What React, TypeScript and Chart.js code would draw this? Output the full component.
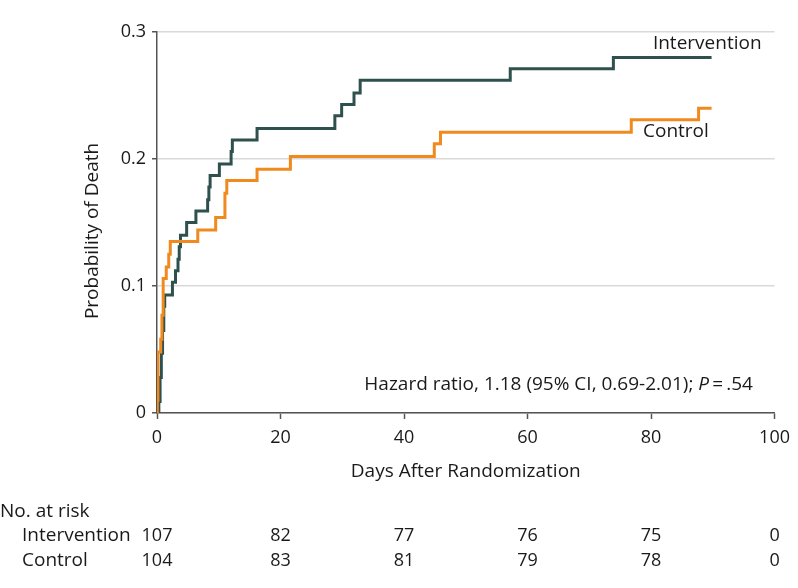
import React, { useEffect, useRef } from "react";
import { Chart, registerables } from "chart.js";

Chart.register(...registerables);

const FONT = "'Open Sans'";
const FONT_SIZE = 18;
const LABEL_SIZE = 19;
const TEXT_COLOR = "#1a1a1a";
const AXIS_COLOR = "#555555";
const GRID_COLOR = "#d9d9d9";
const INTERVENTION_COLOR = "#2e514d";
const CONTROL_COLOR = "#f08a1e";

// Kaplan-Meier step points (day, cumulative probability of death)
const interventionDays = [0, 0.3, 0.5, 0.7, 0.9, 1.1, 1.25, 2.5, 3.0, 3.4, 3.6, 3.8, 4.8, 6.3, 8.2, 8.4, 8.6, 10.1, 12.0, 12.2, 16.2, 28.8, 29.9, 31.9, 32.9, 57.2, 73.9, 89.8];
const interventionProb = [0, 0.009, 0.028, 0.047, 0.065, 0.084, 0.093, 0.103, 0.112, 0.121, 0.131, 0.14, 0.15, 0.159, 0.168, 0.178, 0.187, 0.196, 0.206, 0.215, 0.224, 0.234, 0.243, 0.252, 0.262, 0.271, 0.28, 0.28];

const controlDays = [0, 0.05, 0.15, 0.6, 0.8, 1.0, 1.5, 1.9, 2.15, 6.6, 9.5, 11.0, 11.3, 16.2, 21.6, 44.9, 45.9, 76.8, 87.7, 89.8];
const controlProb = [0, 0.01, 0.048, 0.058, 0.077, 0.106, 0.115, 0.125, 0.135, 0.144, 0.154, 0.173, 0.183, 0.192, 0.202, 0.212, 0.221, 0.231, 0.24, 0.24];

const xTickValues = [0, 20, 40, 60, 80, 100];
const yTickValues = [0, 0.1, 0.2, 0.3];
const atRiskIntervention = [107, 82, 77, 76, 75, 0];
const atRiskControl = [104, 83, 81, 79, 78, 0];

const seriesNames = ["Intervention", "Control"];
const xTitle = "Days After Randomization";
const yTitle = "Probability of Death";
const hrTextMain = "Hazard ratio, 1.18 (95% CI, 0.69-2.01); ";
const hrTextP = "P";
const hrTextEnd = "\u2009=\u2009.54";
const atRiskTitle = "No. at risk";

const toPoints = (xs: number[], ys: number[]) => xs.map((x, i) => ({ x, y: ys[i] }));

const overlayPlugin = {
  id: "overlay",
  afterDraw(chart: any) {
    const ctx = chart.ctx as CanvasRenderingContext2D;
    const xs = chart.scales.x;
    const ys = chart.scales.y;
    ctx.save();
    ctx.fillStyle = TEXT_COLOR;
    ctx.textBaseline = "middle";

    // y axis title
    ctx.save();
    ctx.font = `${LABEL_SIZE}px ${FONT}`;
    ctx.translate(93, 231);
    ctx.rotate(-Math.PI / 2);
    ctx.textAlign = "center";
    ctx.fillText(yTitle, 0, 0);
    ctx.restore();

    // series labels
    ctx.font = `${LABEL_SIZE}px ${FONT}`;
    ctx.textAlign = "left";
    ctx.fillText(seriesNames[0], xs.getPixelForValue(80.3), ys.getPixelForValue(0.291));
    ctx.fillText(seriesNames[1], xs.getPixelForValue(78.7), ys.getPixelForValue(0.2213));

    // hazard ratio annotation (right-aligned)
    const rightX = xs.getPixelForValue(96.5);
    const hy = ys.getPixelForValue(0.022);
    ctx.font = `${LABEL_SIZE}px ${FONT}`;
    const w1 = ctx.measureText(hrTextMain).width;
    const w3 = ctx.measureText(hrTextEnd).width;
    ctx.font = `italic ${LABEL_SIZE}px ${FONT}`;
    const w2 = ctx.measureText(hrTextP).width;
    let sx = rightX - (w1 + w2 + w3);
    ctx.font = `${LABEL_SIZE}px ${FONT}`;
    ctx.fillText(hrTextMain, sx, hy);
    sx += w1;
    ctx.font = `italic ${LABEL_SIZE}px ${FONT}`;
    ctx.fillText(hrTextP, sx, hy);
    sx += w2;
    ctx.font = `${LABEL_SIZE}px ${FONT}`;
    ctx.fillText(hrTextEnd, sx, hy);

    // number at risk table
    ctx.font = `${LABEL_SIZE}px ${FONT}`;
    ctx.textAlign = "left";
    ctx.fillText(atRiskTitle, 0, 512);
    ctx.fillText(seriesNames[0], 22, 536);
    ctx.fillText(seriesNames[1], 22, 561);
    ctx.font = `${FONT_SIZE}px ${FONT}`;
    ctx.textAlign = "center";
    xTickValues.forEach((v, i) => {
      const px = xs.getPixelForValue(v);
      ctx.fillText(String(atRiskIntervention[i]), px, 536);
      ctx.fillText(String(atRiskControl[i]), px, 561);
    });
    ctx.restore();
  },
};

export default function App() {
  const canvasRef = useRef<HTMLCanvasElement | null>(null);

  useEffect(() => {
    if (!canvasRef.current) return;
    const chart = new Chart(canvasRef.current, {
      type: "line",
      data: {
        datasets: [
          {
            label: seriesNames[1],
            data: toPoints(controlDays, controlProb),
            borderColor: CONTROL_COLOR,
            borderWidth: 3,
            pointRadius: 0,
            stepped: "before",
            fill: false,
          },
          {
            label: seriesNames[0],
            data: toPoints(interventionDays, interventionProb),
            borderColor: INTERVENTION_COLOR,
            borderWidth: 3,
            pointRadius: 0,
            stepped: "before",
            fill: false,
          },
        ],
      },
      options: {
        responsive: false,
        animation: false,
        devicePixelRatio: 1,
        layout: { padding: { left: 78, right: 21, top: 32, bottom: 105 } },
        plugins: {
          legend: { display: false },
          tooltip: { enabled: false },
        },
        scales: {
          x: {
            type: "linear",
            min: 0,
            max: 100,
            afterBuildTicks: (scale: any) => {
              scale.ticks = xTickValues.map((v) => ({ value: v }));
            },
            afterFit: (scale: any) => {
              scale.height = 70;
            },
            ticks: {
              color: TEXT_COLOR,
              font: { family: FONT, size: FONT_SIZE },
              padding: 8,
              maxRotation: 0,
              callback: (v: any) => String(v),
            },
            grid: {
              drawOnChartArea: false,
              drawTicks: true,
              tickLength: 6,
              tickColor: AXIS_COLOR,
              tickWidth: 1.5,
            },
            border: { color: AXIS_COLOR, width: 1.5 },
            title: {
              display: true,
              text: xTitle,
              color: TEXT_COLOR,
              font: { family: FONT, size: LABEL_SIZE },
              padding: { top: 0, bottom: 0 },
            },
          },
          y: {
            type: "linear",
            min: 0,
            max: 0.3,
            afterBuildTicks: (scale: any) => {
              scale.ticks = yTickValues.map((v) => ({ value: v }));
            },
            afterFit: (scale: any) => {
              scale.width = 79;
            },
            ticks: {
              color: TEXT_COLOR,
              font: { family: FONT, size: FONT_SIZE },
              padding: 6,
              callback: (v: any) => (v === 0 ? "0" : Number(v).toFixed(1)),
            },
            grid: {
              color: GRID_COLOR,
              lineWidth: 1.5,
              drawTicks: true,
              tickLength: 5,
              tickColor: AXIS_COLOR,
              tickWidth: 1.5,
            },
            border: { color: AXIS_COLOR, width: 1.5 },
            title: { display: false },
          },
        },
      },
      plugins: [overlayPlugin],
    });
    return () => chart.destroy();
  }, []);

  return (
    <div style={{ position: "absolute", left: 0, top: 0, width: 798, height: 588, background: "#fff" }}>
      <canvas ref={canvasRef} width={798} height={588} style={{ display: "block" }} />
    </div>
  );
}
